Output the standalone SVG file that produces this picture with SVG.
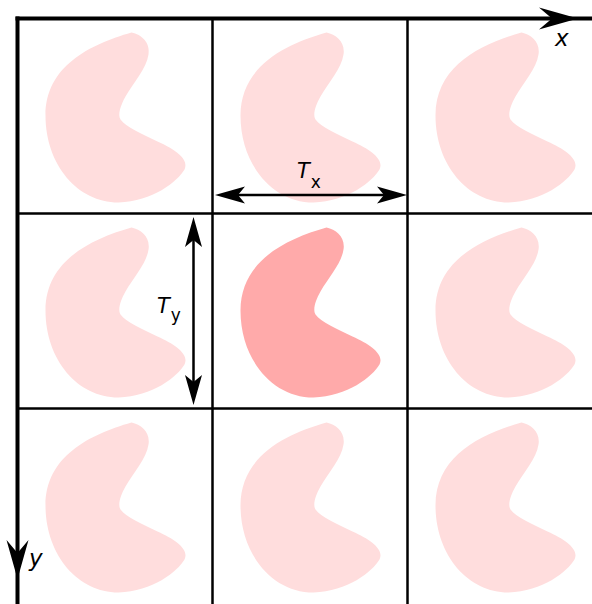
<svg xmlns="http://www.w3.org/2000/svg" xmlns:xlink="http://www.w3.org/1999/xlink" width="592" height="604" viewBox="0 0 592 604">
  <style>
    .grid { stroke: #000; stroke-width: 2.5; fill: none; }
    .axis { stroke: #000; stroke-width: 4; fill: none; }
    .dim { stroke: #000; stroke-width: 2.5; fill: none; }
    .light { fill: #ffdddd; }
    .dark { fill: #ffaaaa; }
    text { font-family: "DejaVu Sans", "Liberation Sans", sans-serif; fill: #000; }
    .it { font-style: italic; }
  </style>
  <defs>
    <path id="blob" d="M114,14 C124,16 133,24 131,36 C129,50 116,64 108,78 C103,87 100,96 103,101 C108,108 125,116 140,123 C158,131 172,141 167,151 C160,163 135,183 101,184 C60,184 28,146 28,97 C28,48 72,26 114,14 Z"/>
    <marker id="axhead" viewBox="-20 -15 50 30" refX="0" refY="0" markerWidth="50" markerHeight="30" markerUnits="userSpaceOnUse" orient="auto">
      <path d="M-13,-11 L26,0 L-13,11 L0,0 Z" fill="#000"/>
    </marker>
    <marker id="dimhead" viewBox="-10 -10 40 20" refX="0" refY="0" markerWidth="40" markerHeight="20" markerUnits="userSpaceOnUse" orient="auto-start-reverse">
      <path d="M-7,-8.5 L23,0 L-7,8.5 L0,0 Z" fill="#000"/>
    </marker>
  </defs>

  <g id="shapes">
    <use id="cell-0-0" xlink:href="#blob" href="#blob" x="17.5" y="18.5" class="light"/>
    <use id="cell-1-0" xlink:href="#blob" href="#blob" x="212.5" y="18.5" class="light"/>
    <use id="cell-2-0" xlink:href="#blob" href="#blob" x="407.5" y="18.5" class="light"/>
    <use id="cell-0-1" xlink:href="#blob" href="#blob" x="17.5" y="213.5" class="light"/>
    <use id="cell-1-1" xlink:href="#blob" href="#blob" x="212.5" y="213.5" class="dark"/>
    <use id="cell-2-1" xlink:href="#blob" href="#blob" x="407.5" y="213.5" class="light"/>
    <use id="cell-0-2" xlink:href="#blob" href="#blob" x="17.5" y="408.5" class="light"/>
    <use id="cell-1-2" xlink:href="#blob" href="#blob" x="212.5" y="408.5" class="light"/>
    <use id="cell-2-2" xlink:href="#blob" href="#blob" x="407.5" y="408.5" class="light"/>
  </g>

  <g id="grid">
    <line class="grid" x1="212.5" y1="18.5" x2="212.5" y2="604"/>
    <line class="grid" x1="407.5" y1="18.5" x2="407.5" y2="604"/>
    <line class="grid" x1="17.5" y1="213.5" x2="592" y2="213.5"/>
    <line class="grid" x1="17.5" y1="408.5" x2="592" y2="408.5"/>
  </g>

  <g id="connectors">
    <path class="axis" d="M15.5,18.5 L552,18.5 L592,18.5" marker-mid="url(#axhead)"/>
    <path class="axis" d="M17.5,16.5 L17.5,553 L17.5,604" marker-mid="url(#axhead)"/>
    <line class="dim" x1="238" y1="195" x2="384" y2="195" marker-start="url(#dimhead)" marker-end="url(#dimhead)"/>
    <line class="dim" x1="193.5" y1="240" x2="193.5" y2="382" marker-start="url(#dimhead)" marker-end="url(#dimhead)"/>
  </g>

  <g id="labels">
    <text class="it" x="555" y="46" font-size="23">x</text>
    <text class="it" x="29" y="566" font-size="23">y</text>
    <text x="297" y="178" font-size="21"><tspan class="it">T</tspan><tspan font-size="17" dy="10" dx="1">x</tspan></text>
    <text x="157" y="313" font-size="21"><tspan class="it">T</tspan><tspan font-size="17" dy="8" dx="1">y</tspan></text>
  </g>
</svg>
